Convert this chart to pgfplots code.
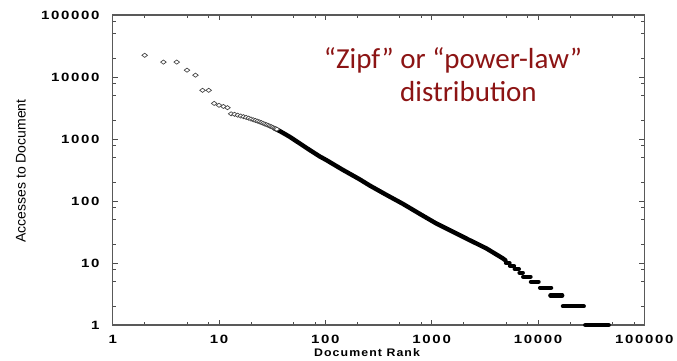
\documentclass[border=0pt]{standalone}
\usepackage{pgfplots}
\pgfplotsset{compat=1.18}
\usepackage{fontspec}
\setmainfont{Liberation Sans}
\newfontfamily\tickfont[FakeStretch=1.25,LetterSpace=14]{Liberation Sans}
\newfontfamily\labfont[FakeStretch=1.12,LetterSpace=10]{Liberation Sans}
\newfontfamily\titlefont{Carlito}
\definecolor{zipfred}{RGB}{140,20,20}
\begin{document}
\begin{tikzpicture}
\useasboundingbox (0,0) rectangle (677pt,360pt);
\begin{axis}[
  at={(112.7pt,35pt)}, anchor=south west,
  scale only axis, width=531.6pt, height=310pt,
  xmode=log, ymode=log,
  xmin=1, xmax=100000, ymin=1, ymax=100000,
  xtick={1,10,100,1000,10000,100000},
  xticklabels={1,10,100,1000,10000,100000},
  ytick={1,10,100,1000,10000,100000},
  yticklabels={1,10,100,1000,10000,100000},
  minor xtick={2,5,8,20,50,80,200,500,800,2000,5000,8000,20000,50000,80000},
  minor ytick={2,5,8,20,50,80,200,500,800,2000,5000,8000,20000,50000,80000},
  tick align=inside,
  major tick length=5pt, minor tick length=3.5pt,
  every tick/.style={black!70, line width=0.8pt},
  axis line style={black!65, line width=1.1pt},
  xticklabel style={font=\tickfont\bfseries\fontsize{12}{12}\selectfont, anchor=north, inner sep=0pt, yshift=-10pt},
  yticklabel style={font=\tickfont\bfseries\fontsize{12}{12}\selectfont, anchor=east, inner sep=0pt, xshift=-13pt},
  clip=false,
  unbounded coords=jump,
]
% head: individual documents (open diamonds)
\addplot[only marks, mark=diamond*, mark size=2.8pt,
  mark options={rotate=90, fill=white, draw=black!75, line width=0.65pt}]
coordinates {
(2,22400) (3,17400) (4,17400) (5,12900) (6,10700) (7,6100) (8,6100)
(9,3750) (10,3500) (11,3350) (12,3200) (13,2550) (14,2500) (15,2420)
(16,2350) (17,2290) (18,2230) (19,2170) (20,2100) (21,2040) (22,1990)
(23,1940) (24,1890) (25,1840) (26,1790) (27,1740) (28,1700) (29,1660)
(30,1620) (31,1580) (32,1540) (33,1500) (34,1470) (35,1440)
};
% dense body
\addplot[black, line width=4.4pt, line cap=round, line join=round] coordinates {
(33,1490) (37.2,1346) (46.1,1089) (57.3,851) (71.2,665) (88.3,525)
(102,458) (146,318) (210,224) (261,178) (374,126) (536,90)
(767,62.5) (1100,43.6) (1580,32) (2260,23.5) (3250,17.3) (4660,11.9) (4950,11)
};
% tail: integer steps
\addplot[black, line width=4.2pt, line cap=round] coordinates {
(5000,10) (5400,10) (5400,nan)
(5450,9) (5950,9) (5950,nan)
(6040,8) (6620,8) (6620,nan)
(6700,7) (7200,7) (7200,nan)
(7250,6) (8520,6) (8520,nan)
(8570,5) (10140,5) (10140,nan)
(10450,4) (13300,4) (13300,nan)
(13060,3) (16940,3) (16940,nan)
(17140,2) (26990,2) (26990,nan)
(27800,1) (46300,1)
};
\end{axis}
\node[rotate=90, font=\fontsize{14}{14}\selectfont] at (21pt,189pt) {Accesses to Document};
\node[font=\labfont\bfseries\fontsize{11}{11}\selectfont] at (367pt,7pt) {Document Rank};
\node[anchor=base, text=zipfred, font=\titlefont\fontsize{29}{29}\selectfont] at (453pt,292pt) {“Zipf” or “power-law”};
\node[anchor=base, text=zipfred, font=\titlefont\fontsize{29}{29}\selectfont] at (468.5pt,258.3pt) {distribution};
\end{tikzpicture}
\end{document}
